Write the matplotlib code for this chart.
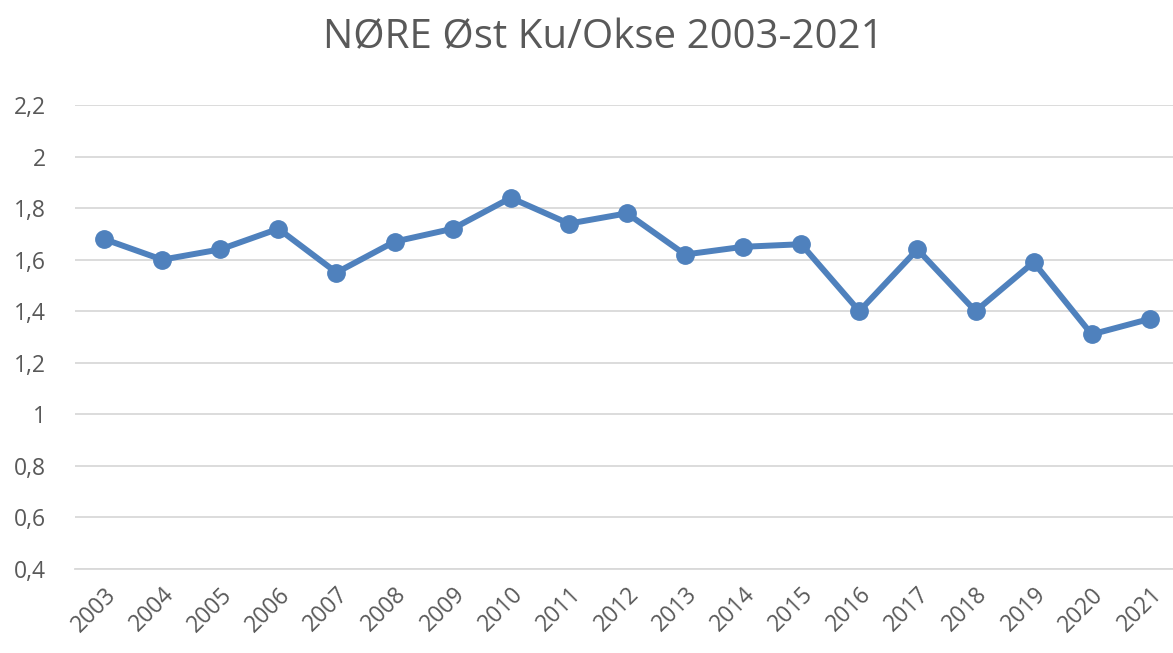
import numpy as np
from matplotlib import pyplot as plt

# data
years = [str(y) for y in range(2003, 2022)]
ratio = [1.68, 1.60, 1.64, 1.72, 1.55, 1.67, 1.72, 1.84, 1.74, 1.78,
         1.62, 1.65, 1.66, 1.40, 1.64, 1.40, 1.59, 1.31, 1.37]
yticks = [0.4, 0.6, 0.8, 1.0, 1.2, 1.4, 1.6, 1.8, 2.0, 2.2]
ylabels = ['0,4', '0,6', '0,8', '1', '1,2', '1,4', '1,6', '1,8', '2', '2,2']

plt.rcParams['font.family'] = ['Open Sans', 'DejaVu Sans']
grey = '#595959'

fig = plt.figure(figsize = (11.73, 6.53), dpi = 100)
ax = fig.add_axes([0.064, 0.129, 0.941, 0.710])

x = np.arange(len(years))
ax.plot(x, ratio, color = '#4F81BD', linewidth = 4.3, marker = 'o', markersize = 12.5,
        solid_capstyle = 'round', solid_joinstyle = 'round')

ax.set_xlim(-0.5, len(years) - 0.5)
ax.set_ylim(0.4, 2.2)
ax.set_yticks(yticks)
ax.set_yticklabels(ylabels, color = grey, fontsize = 16.5)
ax.set_xticks(x)
ax.set_xticklabels(years, rotation = 45, ha = 'right', rotation_mode = 'anchor',
                   color = grey, fontsize = 16.5)
ax.tick_params(axis = 'both', length = 0)
ax.tick_params(axis = 'y', pad = 21)
ax.tick_params(axis = 'x', pad = 10)

ax.grid(True, axis = 'y', color = '#d9d9d9', linewidth = 1.3)
ax.set_axisbelow(True)
for s in ['top', 'right', 'left']:
    ax.spines[s].set_visible(False)
ax.spines['bottom'].set_color('#d9d9d9')
ax.spines['bottom'].set_linewidth(1.3)

fig.text(0.514, 0.942, 'NØRE Øst Ku/Okse 2003-2021', ha = 'center', va = 'center',
         color = grey, fontsize = 29)

plt.savefig('out.png', dpi = 100)
